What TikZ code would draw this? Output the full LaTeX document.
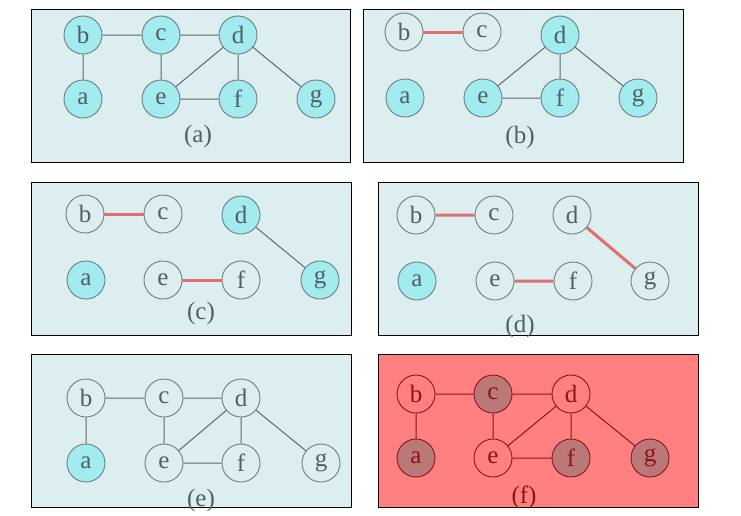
\documentclass[tikz,border=0pt]{standalone}
\usepackage{fontspec}
\setmainfont{Liberation Serif}
\definecolor{panelbg}{HTML}{DDEEF0}
\definecolor{cyanfill}{HTML}{A2ECF0}
\definecolor{nodeline}{HTML}{6E7E7E}
\definecolor{edgeline}{HTML}{5A6A6A}
\definecolor{txt}{HTML}{4E6060}
\definecolor{rededge}{HTML}{E07070}
\definecolor{redbg}{HTML}{FF8080}
\definecolor{darkfill}{HTML}{BA7878}
\definecolor{darkred}{HTML}{8A1414}
\begin{document}
\begin{tikzpicture}[x=1pt,y=-1pt,
  panel/.style={draw=black,line width=1pt,fill=panelbg},
  redpanel/.style={draw=black,line width=1pt,fill=redbg},
  vtx/.style={circle,draw=nodeline,line width=0.9pt,minimum size=38pt,inner sep=0pt,text=txt,font=\fontsize{25}{25}\selectfont},
  on/.style={vtx,fill=cyanfill},
  off/.style={vtx,fill=panelbg},
  ron/.style={vtx,draw=darkred,text=darkred,fill=darkfill},
  roff/.style={vtx,draw=darkred,text=darkred,fill=redbg},
  gedge/.style={draw=edgeline,line width=1pt},
  redge/.style={draw=rededge,line width=3pt},
  dedge/.style={draw=darkred,line width=1pt},
  lbl/.style={text=txt,font=\fontsize{25}{25}\selectfont,inner sep=0pt},
  rlbl/.style={lbl,text=darkred}]
\useasboundingbox (0,0) rectangle (741,515);
% ---------- panel (a)
\path[panel] (31,9) rectangle (350,162);
\node[on] (a1) at (83,99) {a};
\node[on] (b1) at (83,35) {b};
\node[on] (c1) at (161,35) {c};
\node[on] (d1) at (238,35) {d};
\node[on] (e1) at (161,99) {e};
\node[on] (f1) at (238,99) {f};
\node[on] (g1) at (316,99) {g};
\path[gedge] (b1)--(c1) (c1)--(d1) (b1)--(a1) (c1)--(e1) (d1)--(e1) (d1)--(f1) (e1)--(f1) (d1)--(g1);
\node[lbl] (la) at (198,136) {(a)};
% ---------- panel (b)
\path[panel] (363,9) rectangle (683,162);
\node[on] (d2) at (560,35) {d};
\node[off] (b2) at (404,32) {b};
\node[off] (c2) at (482,32) {c};
\node[on] (a2) at (405,98) {a};
\node[on] (e2) at (483,98) {e};
\node[on] (f2) at (560,98) {f};
\node[on] (g2) at (638,98) {g};
\path[redge] (b2)--(c2);
\path[gedge] (d2)--(e2) (d2)--(f2) (e2)--(f2) (d2)--(g2);
\node[lbl] (lb) at (520,137) {(b)};
% ---------- panel (c)
\path[panel] (31,182) rectangle (351,335);
\node[off] (b3) at (85,214) {b};
\node[off] (c3) at (163,214) {c};
\node[on] (d3) at (241,215) {d};
\node[on] (a3) at (86,280) {a};
\node[off] (e3) at (163,280) {e};
\node[off] (f3) at (241,280) {f};
\node[on] (g3) at (320,280) {g};
\path[redge] (b3)--(c3) (e3)--(f3);
\path[gedge] (d3)--(g3);
\node[lbl] (lc) at (201,313) {(c)};
% ---------- panel (d)
\path[panel] (378,182) rectangle (698,335);
\node[off] (b4) at (416,215) {b};
\node[off] (c4) at (494,215) {c};
\node[off] (d4) at (572,215) {d};
\node[on] (a4) at (417,281) {a};
\node[off] (e4) at (495,281) {e};
\node[off] (f4) at (573,281) {f};
\node[off] (g4) at (650,281) {g};
\path[redge] (b4)--(c4) (e4)--(f4) (d4)--(g4);
\node[lbl] (ld) at (520,326) {(d)};
% ---------- panel (e)
\path[panel] (31,354) rectangle (351,507);
\node[off] (b5) at (86,398) {b};
\node[off] (c5) at (164,398) {c};
\node[off] (d5) at (241,398) {d};
\node[on] (a5) at (86,463) {a};
\node[off] (e5) at (164,463) {e};
\node[off] (f5) at (241,463) {f};
\node[off] (g5) at (321,463) {g};
\path[gedge] (b5)--(c5) (c5)--(d5) (b5)--(a5) (c5)--(e5) (d5)--(e5) (d5)--(f5) (e5)--(f5) (d5)--(g5);
\node[lbl] (le) at (201,500) {(e)};
% ---------- panel (f)
\path[redpanel] (378,354) rectangle (698,507);
\node[roff] (b6) at (416,394) {b};
\node[ron] (c6) at (493,394) {c};
\node[roff] (d6) at (571,394) {d};
\node[ron] (a6) at (416,458) {a};
\node[roff] (e6) at (493,458) {e};
\node[ron] (f6) at (571,458) {f};
\node[ron] (g6) at (650,458) {g};
\path[dedge] (b6)--(c6) (c6)--(d6) (b6)--(a6) (c6)--(e6) (d6)--(e6) (d6)--(f6) (e6)--(f6) (d6)--(g6);
\node[rlbl] (lf) at (524,497) {(f)};
\end{tikzpicture}
\end{document}
